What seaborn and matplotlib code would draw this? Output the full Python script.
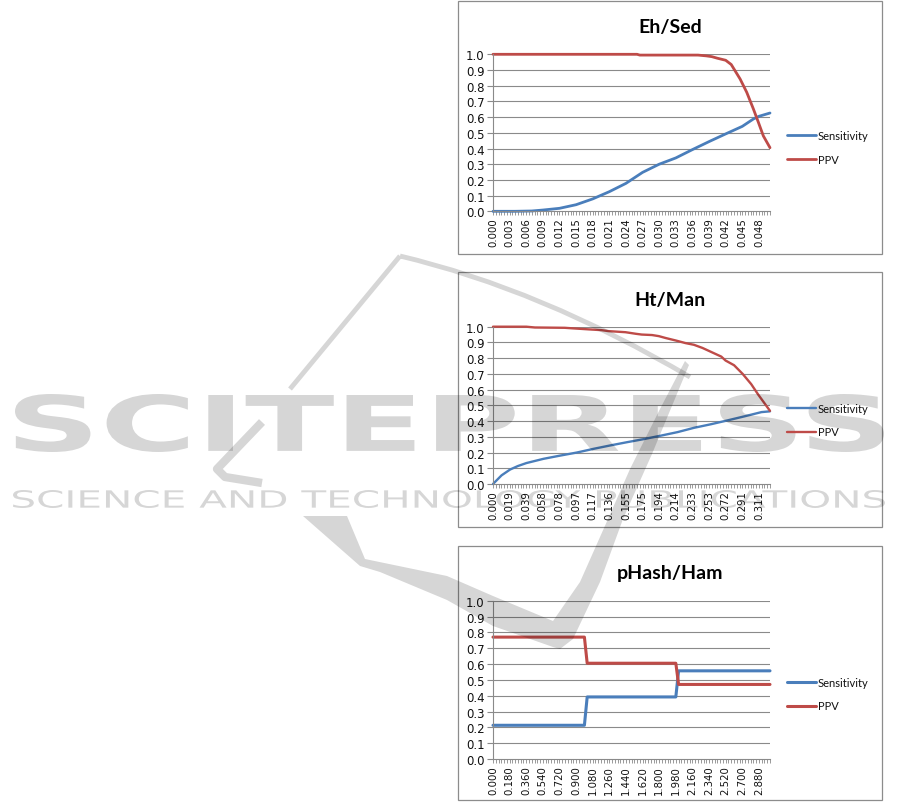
import numpy as np
import pandas as pd
import matplotlib
matplotlib.use("Agg")
import matplotlib.pyplot as plt
import seaborn as sns
from matplotlib.textpath import TextPath
from matplotlib.patches import PathPatch, Rectangle
from matplotlib.font_manager import FontProperties
from matplotlib.transforms import Affine2D
from matplotlib.path import Path
from matplotlib.lines import Line2D

# ---------------------------------------------------------------- data
series_names = ["Sensitivity", "PPV"]

# Eh/Sed  (threshold step 0.0005)
eh_sens_x = [0.000, 0.004, 0.007, 0.009, 0.012, 0.015, 0.018, 0.021, 0.024, 0.027,
             0.030, 0.033, 0.036, 0.039, 0.042, 0.045, 0.047, 0.048, 0.050]
eh_sens_y = [0.000, 0.000, 0.002, 0.008, 0.019, 0.042, 0.079, 0.125, 0.178, 0.248,
             0.300, 0.340, 0.393, 0.444, 0.493, 0.541, 0.588, 0.605, 0.626]
eh_ppv_x = [0.000, 0.026, 0.0265, 0.037, 0.0385, 0.0395, 0.0405, 0.042, 0.043,
            0.0446, 0.0458, 0.047, 0.0479, 0.0488, 0.050]
eh_ppv_y = [1.000, 1.000, 0.995, 0.995, 0.990, 0.985, 0.975, 0.962, 0.935,
            0.843, 0.758, 0.652, 0.567, 0.480, 0.405]
eh_ticklabels = ["0.000", "0.003", "0.006", "0.009", "0.012", "0.015", "0.018",
                 "0.021", "0.024", "0.027", "0.030", "0.033", "0.036", "0.039",
                 "0.042", "0.045", "0.048"]

# Ht/Man  (threshold step 0.00324)
ht_sens_x = [0.000, 0.010, 0.020, 0.029, 0.039, 0.059, 0.078, 0.098, 0.118, 0.137,
             0.157, 0.176, 0.196, 0.216, 0.235, 0.255, 0.274, 0.294, 0.314, 0.324]
ht_sens_y = [0.000, 0.055, 0.092, 0.114, 0.133, 0.160, 0.180, 0.200, 0.224, 0.245,
             0.266, 0.285, 0.307, 0.330, 0.357, 0.380, 0.404, 0.430, 0.457, 0.462]
ht_ppv_x = [0.000, 0.039, 0.049, 0.084, 0.092, 0.112, 0.127, 0.135, 0.155, 0.167,
            0.174, 0.186, 0.194, 0.202, 0.214, 0.225, 0.235, 0.245, 0.257, 0.267,
            0.272, 0.282, 0.292, 0.302, 0.310, 0.318, 0.324]
ht_ppv_y = [1.000, 1.000, 0.995, 0.993, 0.990, 0.983, 0.978, 0.972, 0.965, 0.955,
            0.950, 0.947, 0.940, 0.928, 0.912, 0.896, 0.885, 0.865, 0.835, 0.810,
            0.785, 0.755, 0.700, 0.635, 0.570, 0.510, 0.465]
ht_ticklabels = ["0.000", "0.019", "0.039", "0.058", "0.078", "0.097", "0.117",
                 "0.136", "0.155", "0.175", "0.194", "0.214", "0.233", "0.253",
                 "0.272", "0.291", "0.311"]

# pHash/Ham  (threshold step 0.03)
ph_sens_x = [0.00, 0.99, 1.02, 1.98, 2.01, 3.00]
ph_sens_y = [0.213, 0.213, 0.392, 0.392, 0.557, 0.557]
ph_ppv_x = [0.00, 0.99, 1.02, 1.98, 2.01, 3.00]
ph_ppv_y = [0.770, 0.770, 0.605, 0.605, 0.471, 0.471]
ph_ticklabels = ["0.000", "0.180", "0.360", "0.540", "0.720", "0.900", "1.080",
                 "1.260", "1.440", "1.620", "1.800", "1.980", "2.160", "2.340",
                 "2.520", "2.700", "2.880"]

y_ticklabels = ["0.0", "0.1", "0.2", "0.3", "0.4", "0.5", "0.6", "0.7", "0.8", "0.9", "1.0"]

BLUE = "#4a7ebb"
RED = "#be4b48"
GRID = "#8a8a8a"
INK = "#111111"

W, H = 901, 803
sns.set_theme(style="white")
plt.rcParams["font.family"] = ["DejaVu Sans"]

fig = plt.figure(figsize=(W / 100, H / 100), dpi=100)
fig.patch.set_facecolor("white")


def fx(px):
    return px / W


def fy(py):
    return 1 - py / H


panels = [
    dict(title="Eh/Sed", sx=eh_sens_x, sy=eh_sens_y, px=eh_ppv_x, py=eh_ppv_y,
         labels=eh_ticklabels, step=0.0005, ncat=101,
         box=(458, 2, 882, 255), plot=(493, 55.3, 770, 212.3),
         title_y=28, leg_y=148.5, lw=2.0),
    dict(title="Ht/Man", sx=ht_sens_x, sy=ht_sens_y, px=ht_ppv_x, py=ht_ppv_y,
         labels=ht_ticklabels, step=0.00324, ncat=101,
         box=(458, 273, 882, 528), plot=(493, 327.7, 770, 485),
         title_y=301, leg_y=421, lw=1.7),
    dict(title="pHash/Ham", sx=ph_sens_x, sy=ph_sens_y, px=ph_ppv_x, py=ph_ppv_y,
         labels=ph_ticklabels, step=0.03, ncat=101,
         box=(458, 547, 882, 801), plot=(493, 601.7, 770, 760),
         title_y=574, leg_y=695, lw=2.2),
]

frame_ax = fig.add_axes([0, 0, 1, 1], zorder=0)
frame_ax.set_xlim(0, W)
frame_ax.set_ylim(H, 0)
frame_ax.axis("off")

for p in panels:
    bx0, by0, bx1, by1 = p["box"]
    frame_ax.add_patch(Rectangle((bx0, by0), bx1 - bx0, by1 - by0, fill=False,
                                 ec="#8c8c8c", lw=0.9))
    x0, y0, x1, y1 = p["plot"]
    ax = fig.add_axes([fx(x0), fy(y1), fx(x1 - x0), (y1 - y0) / H], zorder=2)
    ax.patch.set_alpha(0)

    df = pd.concat([
        pd.DataFrame({"threshold": p["sx"], "value": p["sy"], "series": "Sensitivity"}),
        pd.DataFrame({"threshold": p["px"], "value": p["py"], "series": "PPV"}),
    ])
    sns.lineplot(data=df, x="threshold", y="value", hue="series",
                 hue_order=series_names, palette=[BLUE, RED], estimator=None,
                 sort=False, linewidth=p["lw"], legend=False, ax=ax)
    for ln in ax.lines:
        ln.set_clip_on(False)
        ln.set_solid_joinstyle("round")

    xmax = p["step"] * (p["ncat"] - 1)
    ax.set_xlim(0, xmax)
    ax.set_ylim(0, 1)
    ax.set_xlabel("")
    ax.set_ylabel("")

    ax.set_yticks(np.linspace(0, 1, 11))
    ax.set_yticklabels(y_ticklabels, fontsize=8.5, color=INK)
    major = [i * 6 * p["step"] for i in range(len(p["labels"]))]
    ax.set_xticks(major)
    ax.set_xticklabels(p["labels"], rotation=90, fontsize=7.3, color=INK)
    ax.set_xticks([i * p["step"] for i in range(p["ncat"])], minor=True)
    ax.tick_params(axis="x", which="both", direction="out", length=3, width=0.6,
                   color=GRID, pad=1.5, bottom=True)
    ax.tick_params(axis="y", which="major", direction="out", length=4, width=0.8,
                   color=GRID, pad=2, left=True)

    ax.grid(False)
    for yv in np.linspace(0.1, 1.0, 10):
        ax.axhline(yv, color=GRID, lw=0.8, zorder=0.5)
    for s in ["top", "right"]:
        ax.spines[s].set_visible(False)
    for s in ["left", "bottom"]:
        ax.spines[s].set_color(GRID)
        ax.spines[s].set_linewidth(0.8)

    fig.text(fx(670), fy(p["title_y"]), p["title"], ha="center", va="center",
             fontsize=14, fontweight="bold", family="Lato", color="black")

    handles = [Line2D([], [], color=BLUE, lw=p["lw"]),
               Line2D([], [], color=RED, lw=p["lw"])]
    leg = fig.legend(handles, series_names, loc="center left",
                     bbox_to_anchor=(fx(787), fy(p["leg_y"])), frameon=False,
                     handlelength=2.6, handletextpad=0.15, labelspacing=1.15,
                     borderaxespad=0, borderpad=0,
                     prop=FontProperties(family="Lato", size=8))
    for t in leg.get_texts():
        t.set_color(INK)

# ---------------------------------------------------------------- publisher mark
mark_ax = fig.add_axes([0, 0, 1, 1], zorder=5)
mark_ax.set_xlim(0, W)
mark_ax.set_ylim(H, 0)
mark_ax.axis("off")
mark_ax.patch.set_alpha(0)

MARK_ALPHA = 0.16
MARK = dict(fc="black", ec="none", alpha=MARK_ALPHA)


def fitted_text(s, x0, y0, x1, y1, weight):
    fp = FontProperties(family="DejaVu Sans", weight=weight)
    tp = TextPath((0, 0), s, size=100, prop=fp)
    bb = tp.get_extents()
    tr = (Affine2D().translate(-bb.x0, -bb.y0)
          .scale((x1 - x0) / bb.width, -(y1 - y0) / bb.height)
          .translate(x0, y1))
    mark_ax.add_patch(PathPatch(tr.transform_path(tp), **MARK))


fitted_text("SCITEPRESS", 15, 395, 884, 453, "bold")
fitted_text("SCIENCE AND TECHNOLOGY PUBLICATIONS", 13, 491, 885, 509, "normal")

# orbit stroke
mark_ax.plot([262, 217, 225, 262], [423, 470, 478, 484], color="black",
             alpha=MARK_ALPHA, lw=6, solid_capstyle="butt", solid_joinstyle="round")
orbit = Path([(290, 390), (400, 257), (400, 257), (540, 290), (690, 378)],
             [Path.MOVETO, Path.LINETO, Path.MOVETO, Path.CURVE3, Path.CURVE3])
mark_ax.add_patch(PathPatch(orbit, fc="none", ec="black", alpha=MARK_ALPHA, lw=3.5,
                            joinstyle="round"))

# check-mark stroke
tick_shape = [(303, 517), (347, 517), (365, 560), (447, 577), (493, 597), (553, 622),
              (580, 583), (608, 520), (630, 470), (660, 410), (685, 362), (689, 366),
              (652, 455), (623, 520), (600, 583), (573, 640), (560, 650), (553, 648),
              (493, 627), (447, 601), (380, 573), (360, 567)]
mark_ax.add_patch(PathPatch(Path(tick_shape, closed=False), **MARK))

fig.savefig("out.png", dpi=100)
